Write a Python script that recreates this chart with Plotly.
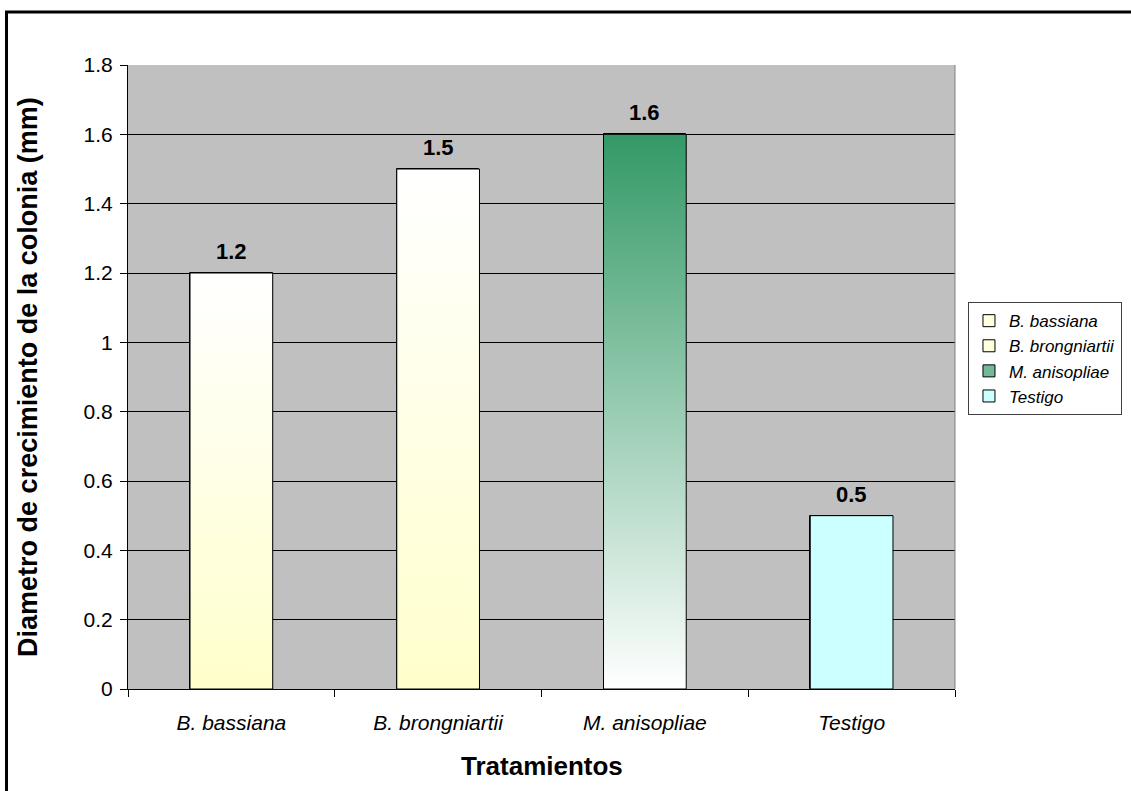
import plotly.graph_objects as go

# Treatments and mean colony growth diameter (mm)
tratamientos = ["B. bassiana", "B. brongniartii", "M. anisopliae", "Testigo"]
diametro = [1.2, 1.5, 1.6, 0.5]

# Fill of each bar: colour at the bottom, colour at the top, legend swatch colour
color_base = ["#FFFFCC", "#FFFFCC", "#FFFFFF", "#CCFFFF"]
color_tope = ["#FFFFFF", "#FFFFFF", "#339966", "#CCFFFF"]
color_leyenda = ["#FFFFE0", "#FFFFE0", "#74B897", "#CCFFFF"]

y_ticks = [0, 0.2, 0.4, 0.6, 0.8, 1, 1.2, 1.4, 1.6, 1.8]

FONT = "Liberation Sans, Arial, sans-serif"
ANCHO = 0.4  # bar width in category units (Excel gap width 150%)

fig = go.Figure()

posiciones = list(range(len(tratamientos)))

# Bars (carry the legend entries)
for i, (nombre, valor) in enumerate(zip(tratamientos, diametro)):
    fig.add_trace(go.Bar(
        x=[posiciones[i]], y=[valor], width=ANCHO, name=nombre,
        marker=dict(color=color_leyenda[i], line=dict(color="black", width=1)),
        hoverinfo="x+y",
    ))

# Vertical gradient fills laid over each bar
for i, valor in enumerate(diametro):
    x0, x1 = posiciones[i] - ANCHO / 2, posiciones[i] + ANCHO / 2
    fig.add_trace(go.Scatter(
        x=[x0, x1, x1, x0, x0], y=[0, 0, valor, valor, 0],
        mode="lines", fill="toself",
        fillgradient=dict(type="vertical",
                          colorscale=[[0, color_base[i]], [1, color_tope[i]]]),
        line=dict(color="black", width=1),
        showlegend=False, hoverinfo="skip",
    ))

# Value labels above the bars
etiquetas = [
    dict(x=posiciones[i], y=valor, xref="x", yref="y",
         text=f"<b>{valor:g}</b>", showarrow=False,
         xanchor="center", yanchor="bottom", yshift=7,
         font=dict(family=FONT, size=22, color="black"))
    for i, valor in enumerate(diametro)
]

fig.update_layout(
    width=1131, height=791,
    margin=dict(l=128, r=176, t=65, b=102, autoexpand=False),
    paper_bgcolor="white", plot_bgcolor="#C0C0C0",
    barmode="overlay", bargap=0,
    font=dict(family=FONT, size=20, color="black"),
    showlegend=True,
    legend=dict(
        x=1.0157, y=0.62, xanchor="left", yanchor="top",
        bgcolor="white", bordercolor="#404040", borderwidth=1,
        font=dict(family=FONT, size=17, style="italic"),
        traceorder="normal", itemwidth=30, tracegroupgap=0,
    ),
    xaxis=dict(
        range=[-0.5, len(tratamientos) - 0.5],
        tickmode="array", tickvals=posiciones, ticktext=tratamientos,
        ticks="", ticklabelstandoff=15,
        tickfont=dict(family=FONT, size=21, style="italic"),
        showgrid=False, zeroline=False,
        showline=True, linecolor="black", linewidth=1,
        minor=dict(tickmode="array",
                   tickvals=[p - 0.5 for p in posiciones] + [posiciones[-1] + 0.5],
                   ticks="outside", ticklen=7, tickcolor="black", showgrid=False),
    ),
    yaxis=dict(
        range=[0, 1.8], tickmode="array", tickvals=y_ticks,
        ticks="outside", ticklen=7, tickcolor="black", ticklabelstandoff=3,
        tickfont=dict(family=FONT, size=21),
        showgrid=True, gridcolor="black", gridwidth=1,
        zeroline=False, showline=True, linecolor="black", linewidth=1,
    ),
    annotations=etiquetas + [
        dict(text="<b>Diametro de crecimiento de la colonia (mm)</b>",
             xref="paper", yref="paper", x=-0.121, y=0.5,
             xanchor="center", yanchor="middle", textangle=-90,
             showarrow=False, font=dict(family=FONT, size=27)),
        dict(text="<b>Tratamientos</b>",
             xref="paper", yref="paper", x=0.5, y=-0.123,
             xanchor="center", yanchor="middle",
             showarrow=False, font=dict(family=FONT, size=26)),
    ],
    shapes=[
        # right edge of the plot area
        dict(type="line", xref="paper", yref="paper", x0=1, x1=1, y0=0, y1=1,
             line=dict(color="#808080", width=1)),
        # outer chart frame
        dict(type="rect", xref="paper", yref="paper",
             x0=-0.1469, x1=1.3, y0=-0.3, y1=1.0849,
             line=dict(color="black", width=3), fillcolor="rgba(0,0,0,0)"),
    ],
)

fig.write_html("out.html")
